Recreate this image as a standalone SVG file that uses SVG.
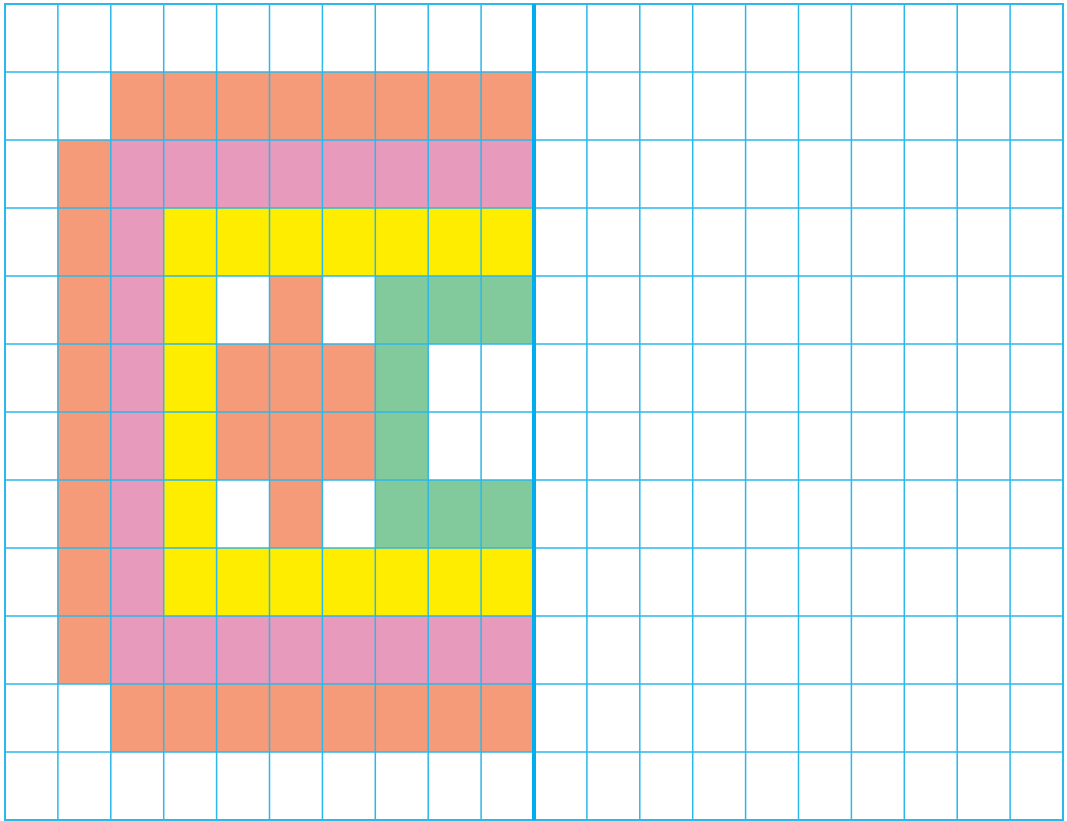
<svg xmlns="http://www.w3.org/2000/svg" width="1067" height="821" viewBox="0 0 1067 821">
<style>
.o{fill:#F59B79}.p{fill:#E79ABC}.y{fill:#FFED00}.g{fill:#82CA9C}
.ln{stroke:#2BB8EA;stroke-width:1.5;fill:none}
</style>
<rect width="1067" height="821" fill="#fff"/>
<g id="cells">
<!-- row 1 -->
<rect class="o" x="110.8" y="72" width="423.2" height="68"/>
<!-- row 2 -->
<rect class="o" x="57.9" y="140" width="52.9" height="68"/>
<rect class="p" x="110.8" y="140" width="423.2" height="68"/>
<!-- row 3 -->
<rect class="o" x="57.9" y="208" width="52.9" height="68"/>
<rect class="p" x="110.8" y="208" width="52.9" height="68"/>
<rect class="y" x="163.7" y="208" width="370.3" height="68"/>
<!-- row 4 -->
<rect class="o" x="57.9" y="276" width="52.9" height="68"/>
<rect class="p" x="110.8" y="276" width="52.9" height="68"/>
<rect class="y" x="163.7" y="276" width="52.9" height="68"/>
<rect class="o" x="269.5" y="276" width="52.9" height="68"/>
<rect class="g" x="375.3" y="276" width="158.7" height="68"/>
<!-- row 5-6 -->
<rect class="o" x="57.9" y="344" width="52.9" height="136"/>
<rect class="p" x="110.8" y="344" width="52.9" height="136"/>
<rect class="y" x="163.7" y="344" width="52.9" height="136"/>
<rect class="o" x="216.6" y="344" width="158.7" height="136"/>
<rect class="g" x="375.3" y="344" width="52.9" height="136"/>
<!-- row 7 -->
<rect class="o" x="57.9" y="480" width="52.9" height="68"/>
<rect class="p" x="110.8" y="480" width="52.9" height="68"/>
<rect class="y" x="163.7" y="480" width="52.9" height="68"/>
<rect class="o" x="269.5" y="480" width="52.9" height="68"/>
<rect class="g" x="375.3" y="480" width="158.7" height="68"/>
<!-- row 8 -->
<rect class="o" x="57.9" y="548" width="52.9" height="68"/>
<rect class="p" x="110.8" y="548" width="52.9" height="68"/>
<rect class="y" x="163.7" y="548" width="370.3" height="68"/>
<!-- row 9 -->
<rect class="o" x="57.9" y="616" width="52.9" height="68"/>
<rect class="p" x="110.8" y="616" width="423.2" height="68"/>
<!-- row 10 -->
<rect class="o" x="110.8" y="684" width="423.2" height="68"/>
</g>
<g id="grid" class="ln">
<path d="M57.9 4V820M110.8 4V820M163.7 4V820M216.6 4V820M269.5 4V820M322.4 4V820M375.3 4V820M428.2 4V820M481.1 4V820M586.9 4V820M639.8 4V820M692.7 4V820M745.6 4V820M798.5 4V820M851.4 4V820M904.3 4V820M957.2 4V820M1010.1 4V820"/>
<path d="M5 72H1063M5 140H1063M5 208H1063M5 276H1063M5 344H1063M5 412H1063M5 480H1063M5 548H1063M5 616H1063M5 684H1063M5 752H1063"/>
<rect x="5" y="4" width="1058" height="816" stroke-width="2"/>
<path d="M534 4V820" stroke="#00AEEF" stroke-width="4"/>
</g>
</svg>
